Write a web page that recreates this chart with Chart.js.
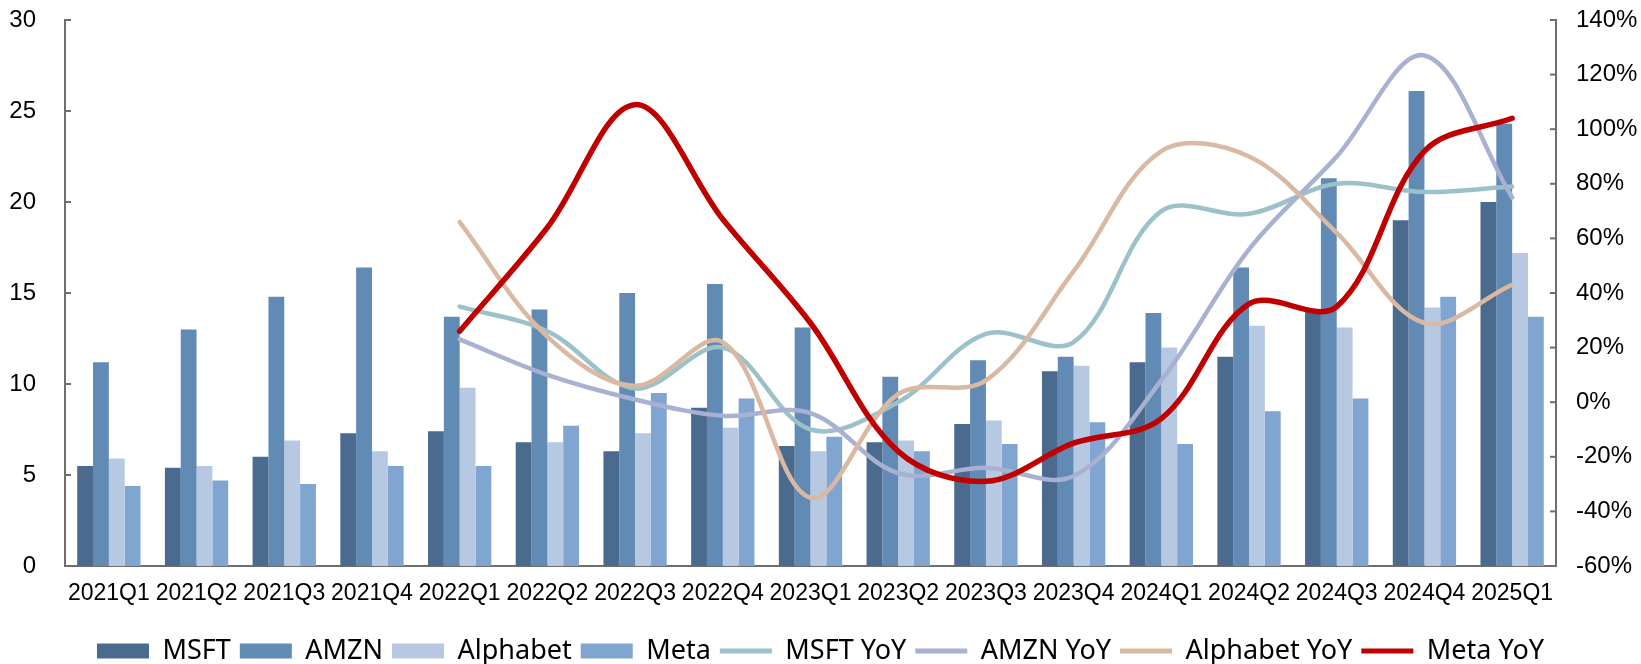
<!DOCTYPE html>
<html>
<head>
<meta charset="utf-8">
<script src="https://cdn.jsdelivr.net/npm/chart.js@4.4.1/dist/chart.umd.min.js"></script>
<style>
  html, body { margin: 0; padding: 0; background: #fff; }
  #chart { display: block; }
</style>
</head>
<body>
<canvas id="chart" width="1641" height="664"></canvas>
<script>
// quarters on the x axis
const quarters = ["2021Q1", "2021Q2", "2021Q3", "2021Q4", "2022Q1", "2022Q2", "2022Q3", "2022Q4",
  "2023Q1", "2023Q2", "2023Q3", "2023Q4", "2024Q1", "2024Q2", "2024Q3", "2024Q4", "2025Q1"];

// capex bars (left axis)
const msft = [5.5, 5.4, 6.0, 7.3, 7.4, 6.8, 6.3, 8.7, 6.6, 6.8, 7.8, 10.7, 11.2, 11.5, 14.0, 19.0, 20.0];
const amzn = [11.2, 13.0, 14.8, 16.4, 13.7, 14.1, 15.0, 15.5, 13.1, 10.4, 11.3, 11.5, 13.9, 16.4, 21.3, 26.1, 24.3];
const alphabet = [5.9, 5.5, 6.9, 6.3, 9.8, 6.8, 7.3, 7.6, 6.3, 6.9, 8.0, 11.0, 12.0, 13.2, 13.1, 14.2, 17.2];
const meta = [4.4, 4.7, 4.5, 5.5, 5.5, 7.7, 9.5, 9.2, 7.1, 6.3, 6.7, 7.9, 6.7, 8.5, 9.2, 14.8, 13.7];

// YoY growth in % (right axis), starts at 2022Q1
const msftYoY = [null, null, null, null, 35, 26, 5, 20, -10, 0, 25, 22, 70, 69, 80, 77, 79];
const amznYoY = [null, null, null, null, 23, 10, 1, -5, -4, -26, -24, -27, 8, 56, 90, 127, 75];
const alphabetYoY = [null, null, null, null, 66, 24, 6, 22, -35, 3, 8, 48, 92, 90, 62, 29, 43];
const metaYoY = [null, null, null, null, 26, 64, 109, 67, 29, -18, -29, -15, -6, 36, 35, 92, 104];

const leftTicks = [0, 5, 10, 15, 20, 25, 30];
const rightTicks = [-60, -40, -20, 0, 20, 40, 60, 80, 100, 120, 140];

const AXIS = "#6e6e6e";
const TICK_FONT = { family: "'Liberation Sans', Arial, sans-serif", size: 24 };

function bar(label, data, color) {
  return {
    type: "bar", label, data, yAxisID: "y", order: 10,
    backgroundColor: color, borderWidth: 0,
    pointStyle: "rect",
    categoryPercentage: 0.722, barPercentage: 1.0
  };
}

function line(label, data, color, width, order) {
  return {
    type: "line", label, data, yAxisID: "y1", order,
    borderColor: color, backgroundColor: color, borderWidth: width,
    pointStyle: "line", pointRadius: 0, pointHoverRadius: 0, pointBorderWidth: 5,
    tension: 0.35, fill: false, borderCapStyle: "round"
  };
}

// small inward tick marks on both value axes
const innerTicks = {
  id: "innerTicks",
  afterDraw(chart) {
    const ctx = chart.ctx;
    ctx.save();
    ctx.strokeStyle = AXIS;
    ctx.lineWidth = 2;
    ["y", "y1"].forEach((id) => {
      const s = chart.scales[id];
      const left = s.position === "left";
      const x = left ? s.right : s.left;
      s.ticks.forEach((t) => {
        const y = s.getPixelForValue(t.value);
        ctx.beginPath();
        ctx.moveTo(x, y);
        ctx.lineTo(x + (left ? 6 : -6), y);
        ctx.stroke();
      });
    });
    ctx.restore();
  }
};

// keep the value axes from pushing the plot down because of their label padding
function fitValueAxis(width) {
  return (s) => {
    s.width = width;
    s.paddingTop = 14;
    s.paddingBottom = 14;
  };
}

new Chart(document.getElementById("chart"), {
  data: {
    labels: quarters,
    datasets: [
      bar("MSFT", msft, "#4a6a8e"),
      bar("AMZN", amzn, "#618ab5"),
      bar("Alphabet", alphabet, "#b7c9e2"),
      bar("Meta", meta, "#7fa5d0"),
      line("MSFT YoY", msftYoY, "#9bc2c8", 4.5, 4),
      line("AMZN YoY", amznYoY, "#a8b1d2", 4.5, 3),
      line("Alphabet YoY", alphabetYoY, "#dab9a3", 4.5, 2),
      line("Meta YoY", metaYoY, "#c00000", 5.5, 1)
    ]
  },
  options: {
    responsive: false,
    animation: false,
    devicePixelRatio: 1,
    layout: { padding: { top: 20, left: 0, right: 0, bottom: -10.5 } },
    plugins: {
      tooltip: { enabled: false },
      legend: {
        position: "bottom",
        labels: {
          usePointStyle: true,
          pointStyleWidth: 52,
          boxHeight: 15,
          padding: 9,
          color: "#000",
          font: { family: "'Noto Sans', sans-serif", size: 27 },
          sort: (a, b) => a.datasetIndex - b.datasetIndex
        }
      }
    },
    scales: {
      x: {
        grid: { display: false, drawTicks: false },
        border: { display: true, color: AXIS, width: 2 },
        ticks: {
          color: "#000", padding: 14, maxRotation: 0, autoSkip: false,
          font: { family: "'Liberation Sans', Arial, sans-serif", size: 23 }
        },
        afterFit: (s) => { s.height = 62.5; }
      },
      y: {
        position: "left",
        min: 0, max: 30,
        grid: { display: false, drawTicks: false },
        border: { display: true, color: AXIS, width: 2 },
        afterBuildTicks: (s) => { s.ticks = leftTicks.map((v) => ({ value: v })); },
        ticks: { color: "#000", padding: 29, font: TICK_FONT },
        afterFit: fitValueAxis(65)
      },
      y1: {
        position: "right",
        min: -60, max: 140,
        grid: { display: false, drawTicks: false },
        border: { display: true, color: AXIS, width: 2 },
        afterBuildTicks: (s) => { s.ticks = rightTicks.map((v) => ({ value: v })); },
        ticks: { color: "#000", padding: 20, font: TICK_FONT, callback: (v) => v + "%" },
        afterFit: fitValueAxis(85)
      }
    }
  },
  plugins: [innerTicks]
});
</script>
</body>
</html>
